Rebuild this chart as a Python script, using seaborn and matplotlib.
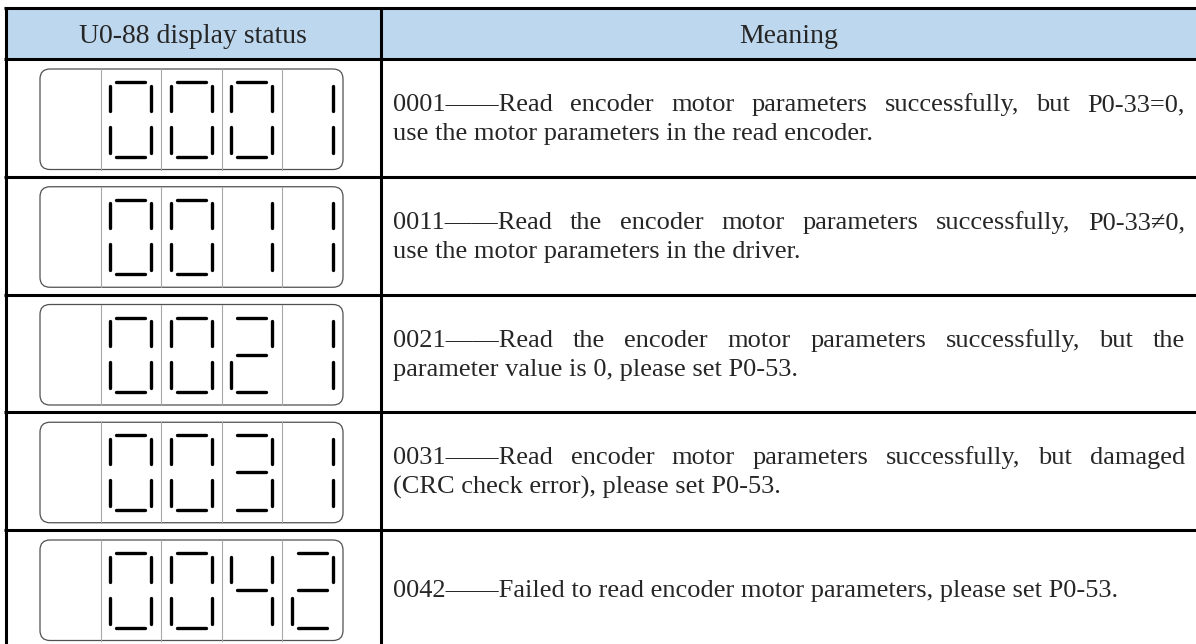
import numpy as np
import pandas as pd
import seaborn as sns
import matplotlib.pyplot as plt
from matplotlib.patches import FancyBboxPatch, Rectangle

# -----------------------------
# U0-88 display status table (seven-segment codes + meaning)
# -----------------------------

header_left = "U0-88 display status"
header_right = "Meaning"

display_codes = ["0001", "0011", "0021", "0031", "0042"]

meaning_lines = [
    ["0001——Read encoder motor parameters successfully, but P0-33=0,",
     "use the motor parameters in the read encoder."],
    ["0011——Read the encoder motor parameters successfully, P0-33≠0,",
     "use the motor parameters in the driver."],
    ["0021——Read the encoder motor parameters successfully, but the",
     "parameter value is 0, please set P0-53."],
    ["0031——Read encoder motor parameters successfully, but damaged",
     "(CRC check error), please set P0-53."],
    ["0042——Failed to read encoder motor parameters, please set P0-53."],
]

# which segments are lit for each digit (a=top, b=upper right, c=lower right,
# d=bottom, e=lower left, f=upper left, g=middle)
digit_segments = {
    "0": "abcdef",
    "1": "bc",
    "2": "abged",
    "3": "abgcd",
    "4": "fgbc",
}

# layout (pixels)
W, H = 1196, 644
X_LEFT, X_DIV, X_RIGHT = 5.5, 380.5, 1196
Y_TOP, Y_HEAD = 8, 59
ROW_H = 117.75
BOX_X0, BOX_X1 = 40, 343
CELL_W = (BOX_X1 - BOX_X0) / 5
TEXT_X0, TEXT_X1 = 393, 1185
LINE_GAP = 29
FONT = ['Liberation Serif', 'DejaVu Serif']
FS_HEAD = 20
FS_BODY = 19

# segment geometry inside one cell: (x0, y0, x1, y1), relative to cell left / box top
SEG_GEOM = {
    "a": (15.5, 13, 44.5, 13),
    "g": (15.5, 50, 44.5, 50),
    "d": (15.5, 87.5, 44.5, 87.5),
    "f": (9.5, 16.5, 9.5, 41.5),
    "b": (50.5, 16.5, 50.5, 41.5),
    "e": (9.5, 57.5, 9.5, 83.5),
    "c": (50.5, 57.5, 50.5, 83.5),
}


def row_top(i):
    return Y_HEAD + i * ROW_H


def build_segments() -> pd.DataFrame:
    rows = []
    seg_id = 0
    for r, code in enumerate(display_codes):
        box_top = row_top(r) + 10
        for k, ch in enumerate(code):
            cell_x = BOX_X0 + (k + 1) * CELL_W
            for s in digit_segments[ch]:
                x0, y0, x1, y1 = SEG_GEOM[s]
                rows.append((seg_id, cell_x + x0, box_top + y0))
                rows.append((seg_id, cell_x + x1, box_top + y1))
                seg_id += 1
    return pd.DataFrame(rows, columns=["seg", "x", "y"])


def draw_justified(ax, renderer, line, y, justify):
    words = line.split(" ")
    kw = dict(fontsize=FS_BODY, family=FONT, va='baseline', ha='left')
    if not justify or len(words) < 2:
        ax.text(TEXT_X0, y, line, **kw)
        return
    arts = [ax.text(TEXT_X0, y, w, **kw) for w in words]
    widths = [a.get_window_extent(renderer).width for a in arts]
    gap = (TEXT_X1 - TEXT_X0 - sum(widths)) / (len(words) - 1)
    x = TEXT_X0
    for a, w in zip(arts, widths):
        a.set_x(x)
        x += w + gap


def main():
    sns.set_theme(style="white")
    plt.rcParams['font.family'] = FONT

    fig = plt.figure(figsize=(W / 100, H / 100), dpi=100)
    ax = fig.add_axes([0, 0, 1, 1])

    # header background
    ax.add_patch(Rectangle((X_LEFT, Y_TOP), X_RIGHT - X_LEFT, Y_HEAD - Y_TOP,
                           facecolor='#BDD7EE', edgecolor='none', zorder=0))

    # display boxes with cell dividers
    for r in range(len(display_codes)):
        top = row_top(r) + 10
        bh = 100.5
        ax.add_patch(FancyBboxPatch((BOX_X0, top), BOX_X1 - BOX_X0, bh,
                                    boxstyle="round,pad=0,rounding_size=10",
                                    facecolor='white', edgecolor='#505050',
                                    linewidth=0.9, zorder=1))
        for k in range(1, 5):
            cx = BOX_X0 + k * CELL_W
            ax.plot([cx, cx], [top, top + bh], color='#a8a8a8', lw=0.8, zorder=2)

    # seven segment digits
    seg_df = build_segments()
    sns.lineplot(data=seg_df, x="x", y="y", units="seg", estimator=None, sort=False,
                 color='black', linewidth=2.4, solid_capstyle='round',
                 legend=False, ax=ax, zorder=3)

    # table lines
    lw = 2.2
    ax.hlines([Y_TOP, Y_HEAD], X_LEFT - 1.5, X_RIGHT, color='black', lw=lw, zorder=4)
    ax.hlines([row_top(i) for i in range(1, len(display_codes))], X_LEFT - 1.5, X_RIGHT,
              color='black', lw=lw, zorder=4)
    ax.vlines([X_LEFT, X_DIV], Y_TOP - 1.5, H + 5, color='black', lw=lw, zorder=4)

    # header text
    ax.text((X_LEFT + X_DIV) / 2, 43, header_left, fontsize=FS_HEAD, ha='center', va='baseline')
    ax.text((X_DIV + X_RIGHT) / 2, 43, header_right, fontsize=FS_HEAD, ha='center', va='baseline')

    ax.set_xlim(0, W)
    ax.set_ylim(H, 0)
    ax.axis('off')

    renderer = fig.canvas.get_renderer()
    cap_half = FS_BODY * 100 / 72 * 0.662 / 2
    for r, lines in enumerate(meaning_lines):
        n = len(lines)
        base = row_top(r) + 58 + cap_half - (n - 1) * LINE_GAP / 2
        for j, line in enumerate(lines):
            draw_justified(ax, renderer, line, base + j * LINE_GAP, justify=(j < n - 1))

    fig.savefig('out.png', dpi=100)
    plt.close(fig)


if __name__ == '__main__':
    main()
